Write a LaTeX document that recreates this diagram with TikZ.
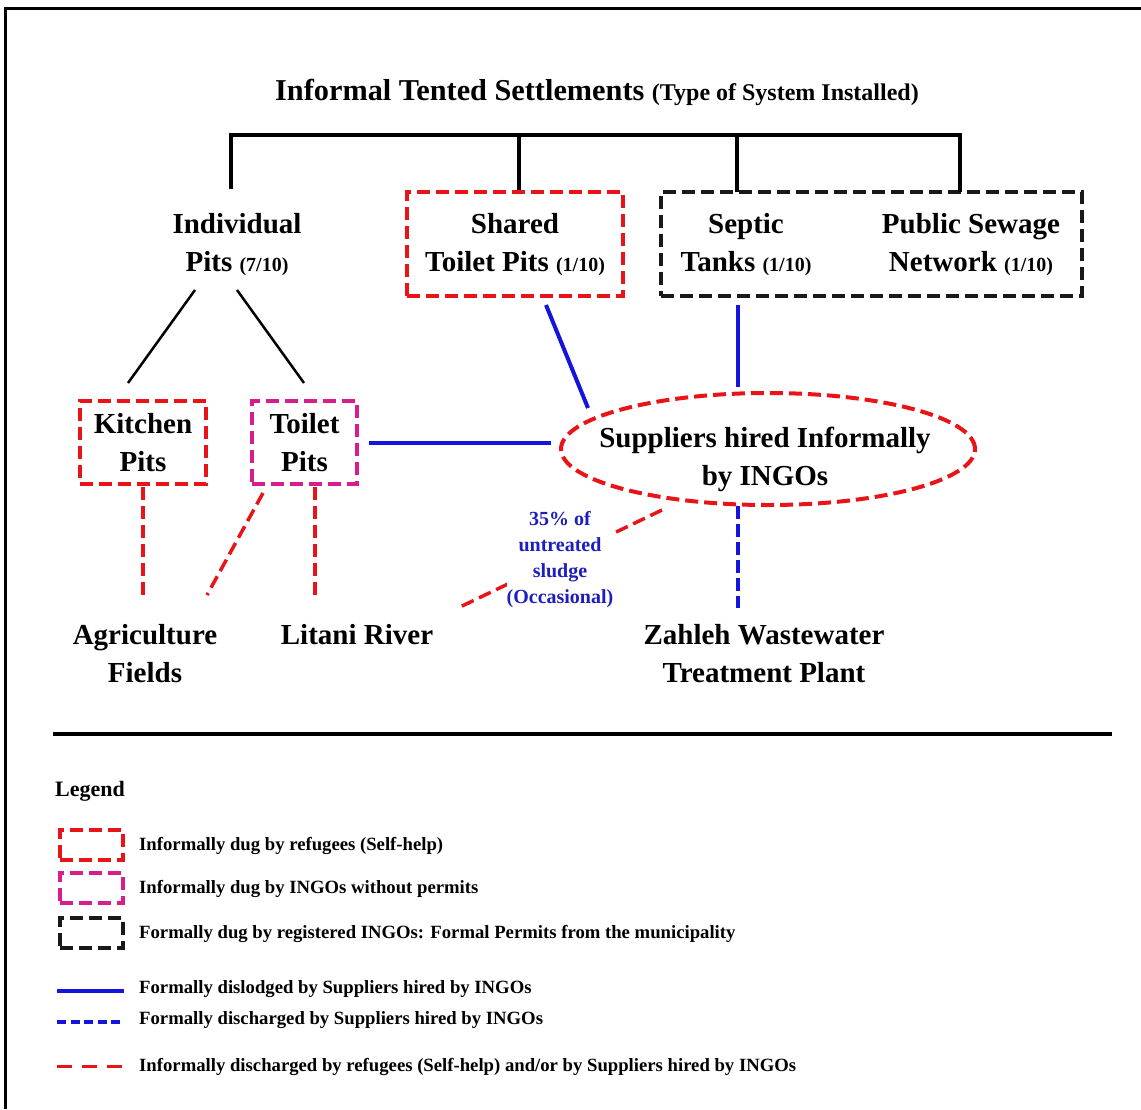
\documentclass[tikz,border=0pt]{standalone}
\usepackage{fontspec}
\setmainfont{Liberation Serif}
\usetikzlibrary{shapes.geometric}
\definecolor{myred}{RGB}{232,20,24}
\definecolor{mymag}{RGB}{214,30,140}
\definecolor{myblue}{RGB}{20,20,220}
\definecolor{txtblue}{RGB}{30,30,190}
\newcommand{\smp}[1]{{\fontsize{20}{20}\selectfont #1}}
\tikzset{
  lbl/.style={font=\fontsize{29}{38}\selectfont\bfseries, align=center, inner sep=0pt},
  legtxt/.style={font=\fontsize{18.7}{22}\selectfont\bfseries, anchor=west, inner sep=0pt},
  boxbase/.style={rectangle, line width=4pt, dash pattern=on 13pt off 6pt, inner sep=0pt},
  redbox/.style={boxbase, draw=myred},
  magbox/.style={boxbase, draw=mymag},
  blkbox/.style={boxbase, draw=black!90},
  bluesolid/.style={draw=myblue, line width=4pt},
  bluedash/.style={draw=myblue, line width=3.5pt, dash pattern=on 13pt off 5pt},
  reddash/.style={draw=myred, line width=3.5pt, dash pattern=on 13pt off 6pt},
  tree/.style={draw=black, line width=3.5pt},
  twig/.style={draw=black, line width=2.5pt},
}
\begin{document}
\begin{tikzpicture}[x=1pt,y=-1pt]
\useasboundingbox (0,0) rectangle (1141,1109);
% outer frame (cut at right and bottom)
\coordinate (fr1) at (1141,8);
\coordinate (fr0) at (5,8);
\coordinate (fr2) at (5,1109);
\draw[line width=3pt] (fr1) -- (fr0) -- (fr2);

% title
\node[anchor=base west, inner sep=0pt, font=\fontsize{30.3}{36}\selectfont\bfseries] (title) at (275,100)
  {Informal Tented Settlements {\fontsize{24}{24}\selectfont (Type of System Installed)}};

% bracket
\coordinate (b1) at (231,135);
\coordinate (b2) at (519,135);
\coordinate (b3) at (737,135);
\coordinate (b4) at (960,135);
\coordinate (b1e) at (231,189);
\coordinate (b3e) at (737,192);
\coordinate (b4e) at (960,192);

% first level
\node[lbl] (indiv) at (237,244.5) {Individual\\Pits \smp{(7/10)}};
\node[redbox, minimum width=216pt, minimum height=104pt] (shared) at (515,244) {};
\node[lbl] (sharedtxt) at (515,244.5) {Shared\\Toilet Pits \smp{(1/10)}};
\node[blkbox, minimum width=421pt, minimum height=104pt] (formal) at (871.5,244) {};
\node[lbl] (septic) at (746,244.5) {Septic\\Tanks \smp{(1/10)}};
\node[lbl] (sewage) at (971,244.5) {Public Sewage\\Network \smp{(1/10)}};

\draw[tree] (b1e) -- (b1) -- (b4) -- (b4e);
\draw[tree] (b2) -- (shared.north -| b2);
\draw[tree] (b3) -- (b3e);

% second level
\node[redbox, minimum width=126pt, minimum height=83pt, lbl] (kitchen) at (143,442.5) {Kitchen\\Pits};
\node[magbox, minimum width=105pt, minimum height=83pt, lbl] (toilet) at (304.5,442.5) {Toilet\\Pits};

\coordinate (i1) at (195,290);
\coordinate (i2) at (237,290);
\coordinate (k1) at (128,383);
\coordinate (t1) at (304,383);
\draw[twig] (i1) -- (k1);
\draw[twig] (i2) -- (t1);

% suppliers ellipse
\node[ellipse, draw=myred, line width=4pt, dash pattern=on 13pt off 6pt, minimum width=414pt, minimum height=112pt, inner sep=0pt] (sup) at (768,449) {};
\node[lbl] (suptxt) at (765,459) {Suppliers hired Informally\\by INGOs};

% destinations
\node[lbl] (agri) at (145,654) {Agriculture\\Fields};
\node[lbl] (litani) at (357,635) {Litani River};
\node[lbl] (zahleh) at (764,654) {Zahleh Wastewater\\Treatment Plant};

% blue solid connectors
\draw[bluesolid, shorten <=10pt, shorten >=8pt] (toilet.east) -- (toilet.east -| sup.west);
\coordinate (s1) at (546,305);
\coordinate (s2) at (588,408);
\draw[bluesolid] (s1) -- (s2);
\coordinate (f1) at (738,305);
\coordinate (f2) at (738,387);
\draw[bluesolid] (f1) -- (f2);

% blue dashed to Zahleh
\coordinate (z1) at (738,506);
\coordinate (z2) at (738,608);
\draw[bluedash] (z1) -- (z2);

% red dashed discharges
\coordinate (l1) at (662,510);
\coordinate (l2) at (460,607);
\draw[reddash] (l1) -- (l2);
\coordinate (ka) at (143,487);
\coordinate (kb) at (143,595);
\draw[reddash] (ka) -- (kb);
\coordinate (ta) at (263,493);
\coordinate (tb) at (207,595);
\draw[reddash] (ta) -- (tb);
\coordinate (tc) at (315,487);
\coordinate (td) at (315,595);
\draw[reddash] (tc) -- (td);

% sludge label
\node[font=\fontsize{20}{26}\selectfont\bfseries, text=txtblue, align=center, inner sep=0pt, fill=white] (sludge) at (560,560)
  {35\% of\\untreated\\sludge\\(Occasional)};

% separator
\coordinate (sep1) at (53,734);
\coordinate (sep2) at (1112,734);
\draw[line width=3.5pt] (sep1) -- (sep2);

% legend
\node[anchor=west, inner sep=0pt, font=\fontsize{22}{26}\selectfont\bfseries] (legend) at (55,791) {Legend};
\node[redbox, minimum width=63pt, minimum height=30pt] (lg1) at (91.5,845) {};
\node[legtxt] (lt1) at (139,846) {Informally dug by refugees (Self-help)};
\node[magbox, minimum width=63pt, minimum height=30pt] (lg2) at (91.5,888) {};
\node[legtxt] (lt2) at (139,889) {Informally dug by INGOs without permits};
\node[blkbox, minimum width=63pt, minimum height=30pt] (lg3) at (91.5,933) {};
\node[legtxt] (lt3) at (139,934) {Formally dug by registered INGOs: Formal Permits from the municipality};

\coordinate (la1) at (57,991);
\coordinate (la2) at (124,991);
\draw[bluesolid] (la1) -- (la2);
\node[legtxt] (lt4) at (139,989) {Formally dislodged by Suppliers hired by INGOs};
\coordinate (lb1) at (57,1022);
\coordinate (lb2) at (124,1022);
\draw[draw=myblue, line width=4pt, dash pattern=on 9pt off 4.5pt] (lb1) -- (lb2);
\node[legtxt] (lt5) at (139,1020) {Formally discharged by Suppliers hired by INGOs};
\coordinate (lc1) at (57,1066);
\coordinate (lc2) at (124,1066);
\draw[draw=myred, line width=3pt, dash pattern=on 15pt off 10pt] (lc1) -- (lc2);
\node[legtxt] (lt6) at (139,1067) {Informally discharged by refugees (Self-help) and/or by Suppliers hired by INGOs};
\end{tikzpicture}
\end{document}
